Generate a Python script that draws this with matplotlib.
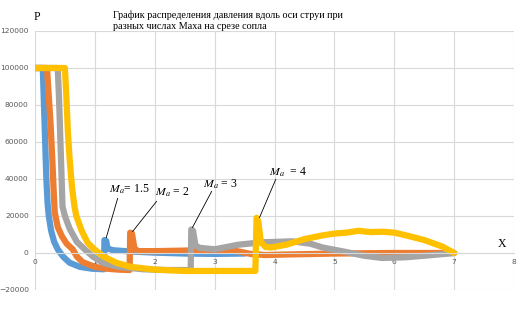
import matplotlib
matplotlib.use("Agg")
import matplotlib.pyplot as plt

plt.rcParams['mathtext.fontset'] = 'stix'

title = "График распределения давления вдоль оси струи при\nразных числах Маха на срезе сопла"

# Ma = 1.5 (blue)
x_m15 = [0.0, 0.13, 0.15, 0.17, 0.19, 0.21, 0.23, 0.27, 0.32, 0.38, 0.47, 0.58, 0.75, 0.95, 1.15,
         1.16, 1.19, 1.21, 1.30, 1.60, 2.00, 2.50, 3.00, 3.50]
y_m15 = [100000, 100000, 80000, 60000, 40000, 27000, 20000, 12000, 6000, 2000, -2000, -5300, -7500, -8500, -8800,
         7000, 6500, 2500, 1500, 800, 200, -300, -500, -300]

# Ma = 2 (orange)
x_m2 = [0.0, 0.20, 0.23, 0.26, 0.29, 0.31, 0.33, 0.38, 0.45, 0.53, 0.63, 0.70, 0.80, 1.00, 1.20, 1.40, 1.58,
        1.59, 1.62, 1.66, 1.72, 2.00, 2.50, 3.00, 3.30, 3.60, 3.85, 4.20, 5.00, 6.00, 7.00]
y_m2 = [100000, 100000, 85000, 70000, 50000, 35000, 22000, 14000, 9000, 5000, 2000, -2000, -5000, -7500, -8500, -9000, -9200,
        11000, 10500, 2500, 1000, 1000, 1300, 1800, 1500, -500, -1100, -800, -300, 0, 0]

# Ma = 3 (gray)
x_m3 = [0.0, 0.38, 0.40, 0.42, 0.44, 0.46, 0.50, 0.58, 0.70, 0.83, 0.97, 1.13, 1.40, 1.80, 2.20, 2.60,
        2.61, 2.64, 2.68, 2.75, 3.00, 3.40, 3.80, 4.30, 4.60, 4.80, 5.20, 5.50, 5.80, 6.20, 6.60, 7.00]
y_m3 = [100000, 100000, 85000, 65000, 45000, 25000, 20000, 13000, 6000, 2000, -2000, -5300, -7500, -8800, -9200, -9200,
        12700, 12000, 4000, 2800, 2000, 4500, 5800, 6300, 5000, 3000, 500, -1500, -2700, -2300, -1200, 0]

# Ma = 4 (yellow)
x_m4 = [0.0, 0.50, 0.53, 0.55, 0.58, 0.62, 0.66, 0.69, 0.78, 0.88, 0.99, 1.15, 1.36, 1.60, 2.00, 2.50, 3.68,
        3.70, 3.73, 3.77, 3.85, 3.95, 4.20, 4.50, 4.80, 5.00, 5.20, 5.40, 5.60, 5.80, 6.00, 6.20, 6.50, 6.80, 7.00]
y_m4 = [100000, 100000, 80000, 65000, 50000, 35000, 25000, 20000, 12000, 5500, 2000, -2000, -5300, -7500, -9000, -9700, -9700,
        19000, 17000, 6000, 3200, 3000, 4500, 7500, 9500, 10500, 11000, 12000, 11300, 11500, 11000, 9500, 7000, 3500, 0]

series = [(x_m15, y_m15, '#5B9BD5'), (x_m2, y_m2, '#ED7D31'),
          (x_m3, y_m3, '#A5A5A5'), (x_m4, y_m4, '#FFC000')]

labels = [r'$M_a$= 1.5', r'$M_a$ = 2', r'$M_a$ = 3', r'$M_a$  = 4']
label_pos = [(1.24, 34400), (2.0, 32800), (2.8, 37000), (3.91, 43600)]
arrow_from = [(1.38, 29500), (2.03, 27900), (2.95, 33300), (4.02, 39800)]
arrow_to = [(1.19, 8300), (1.63, 11600), (2.63, 13800), (3.75, 19200)]

fig = plt.figure(figsize=(5.23, 3.16), dpi=100)
ax = fig.add_axes([0.0669, 0.0823, 0.916, 0.8196])
ax.set_xlim(0, 8)
ax.set_ylim(-20000, 120000)
ax.set_xticks(range(0, 9))
ax.set_yticks(range(-20000, 120001, 20000))
ax.grid(True, color='#D9D9D9', lw=0.8)
ax.set_axisbelow(True)
for s in ['top', 'right', 'left']:
    ax.spines[s].set_visible(False)
ax.spines['bottom'].set_position(('data', 0))
ax.spines['bottom'].set_color('#D9D9D9')
ax.tick_params(length=0, labelsize=5.4, labelcolor='#595959', pad=4)
ax.tick_params(axis='y', pad=4.5)

for xs, ys, c in series:
    ax.plot(xs, ys, color=c, lw=4.5, solid_joinstyle='round', solid_capstyle='round')

for lab, (tx, ty), (fx, fy), (px, py) in zip(labels, label_pos, arrow_from, arrow_to):
    ax.text(tx, ty, lab, fontsize=8.5, family='Liberation Serif', ha='left', va='center')
    ax.plot([fx, px], [fy, py], color='black', lw=0.6)

fig.text(113 / 523, 1 - 10 / 316, title, fontsize=7.3, family='Liberation Serif',
         ha='left', va='top', linespacing=1.35)
fig.text(37 / 523, 1 - 17 / 316, 'P', fontsize=8.5, family='Liberation Serif', ha='center', va='center')
fig.text(502 / 523, 1 - 244 / 316, 'X', fontsize=8.5, family='Liberation Serif', ha='center', va='center')

fig.savefig('out.png', dpi=100)
